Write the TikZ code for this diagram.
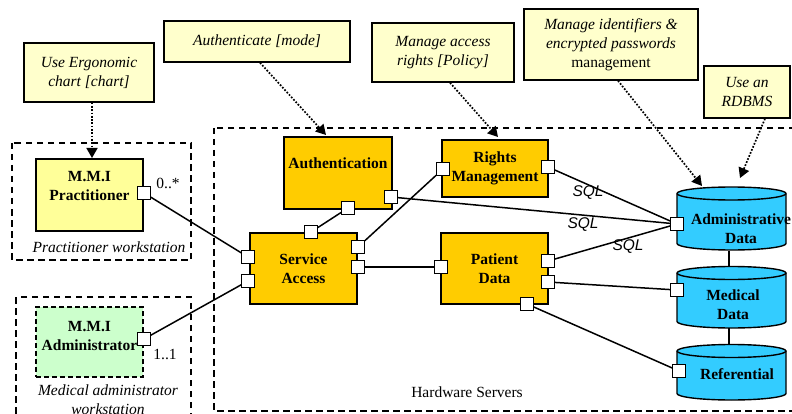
\documentclass[tikz,border=0pt]{standalone}
\usepackage{fontspec}
\setmainfont{Liberation Serif}
\newfontfamily\sqlfont{Liberation Sans}
\usetikzlibrary{arrows.meta,calc}
\definecolor{notefill}{HTML}{FFFFCC}
\definecolor{pracfill}{HTML}{FFFF99}
\definecolor{adminfill}{HTML}{CCFFCC}
\definecolor{compfill}{HTML}{FFCC00}
\definecolor{dbfill}{HTML}{33CCFF}
\tikzset{
  every node/.style={font=\fontsize{15.5}{19}\selectfont, inner sep=0pt},
  note/.style={draw, line width=1.4pt, fill=notefill, align=center,
    font=\fontsize{15.5}{19}\selectfont\itshape},
  comp/.style={draw, line width=1.4pt, fill=compfill},
  port/.style={draw, line width=1.2pt, fill=white, minimum size=12.5pt},
  wire/.style={line width=1.5pt},
  trace/.style={line width=1.7pt, dash pattern=on 1.7pt off 1.6pt,
    -{Triangle[length=10pt,width=11pt]}},
  container/.style={line width=1.4pt, dash pattern=on 6.5pt off 4.5pt},
  boldtxt/.style={font=\fontsize{15.5}{19}\selectfont\bfseries, align=center},
  captxt/.style={font=\fontsize{15.5}{19}\selectfont\itshape, align=center},
  sql/.style={font=\fontsize{15.5}{18}\selectfont\sqlfont\itshape},
}
% database cylinder: centre x, top-ellipse y, bottom-ellipse y
\newcommand{\dbdrum}[3]{%
  \filldraw[fill=dbfill, line width=1.4pt]
    (#1-54.5,#2) -- (#1-54.5,#3)
    arc[start angle=180, end angle=360, x radius=54.5pt, y radius=6.5pt]
    -- (#1+54.5,#2)
    arc[start angle=0, end angle=180, x radius=54.5pt, y radius=6.5pt] -- cycle;
  \draw[line width=1.4pt] (#1-54.5,#2)
    arc[start angle=180, end angle=360, x radius=54.5pt, y radius=6.5pt];}
\begin{document}
\begin{tikzpicture}[x=1pt, y=-1pt]
\useasboundingbox (0,0) rectangle (792,414);
\clip (0,0) rectangle (792,414);

% deployment containers
\draw[container] (12,143) rectangle (191,260);
\draw[container] (16,297) rectangle (191,430);
\draw[container] (214,128) rectangle (810,411);
\node[captxt] (cpw) at (109,247) {Practitioner workstation};
\node[captxt] (cmw) at (108,400) {Medical administrator\\workstation};
\node (chs) at (467,392) {Hardware Servers};

% notes
\node[note, minimum width=130pt, minimum height=59pt] (n1) at (89,72.5)
  {Use Ergonomic\\chart [chart]};
\node[note, minimum width=186pt, minimum height=41pt] (n2) at (257,41.5)
  {Authenticate [mode]};
\node[note, minimum width=142pt, minimum height=59pt] (n3) at (443,52.5)
  {Manage access\\rights [Policy]};
\node[note, minimum width=174pt, minimum height=71pt] (n4) at (611,44.5)
  {Manage identifiers \&\\encrypted passwords\\\upshape management};
\node[note, minimum width=86pt, minimum height=52pt] (n5) at (747,92)
  {Use an\\RDBMS};

% client components
\node[draw, line width=1.4pt, fill=pracfill, minimum width=107pt, minimum height=72pt]
  (prac) at (89.5,195) {};
\node[boldtxt] (pract) at (89.5,186.5) {M.M.I\\Practitioner};
\node[draw, line width=1.4pt, dash pattern=on 5pt off 3pt, fill=adminfill,
  minimum width=107pt, minimum height=70pt] (adm) at (89.5,342) {};
\node[boldtxt] (admt) at (89.5,336) {M.M.I\\Administrator};

% server components
\node[comp, minimum width=108pt, minimum height=72pt] (auth) at (338,173) {};
\node[boldtxt] (autht) at (338,163) {Authentication};
\node[comp, boldtxt, minimum width=107pt, minimum height=71pt] (sa) at (303.5,268.5)
  {Service\\Access};
\node[comp, boldtxt, minimum width=106pt, minimum height=57pt] (rm) at (495,168.5)
  {Rights\\Management};
\node[comp, boldtxt, minimum width=107pt, minimum height=71pt] (pd) at (494.5,268.5)
  {Patient\\Data};

% databases
\dbdrum{731.5}{193.5}{243.5}
\dbdrum{731.5}{273}{321.5}
\dbdrum{731.5}{351}{393.5}
\node[boldtxt] (adt) at (741,228.5) {Administrative\\Data};
\node[boldtxt] (mdt) at (733,304.5) {Medical\\Data};
\node[boldtxt] (rft) at (737,374) {Referential};
\coordinate (adbot) at (729,250.5);
\coordinate (mdtop) at (729,266.5);
\coordinate (mdbot) at (729,328);
\coordinate (rftop) at (729,344.5);
\draw[wire] (adbot) -- (mdtop);
\draw[wire] (mdbot) -- (rftop);

% ports
\node[port] (pp)  at (144,193) {};
\node[port] (pa)  at (144,339) {};
\node[port] (aur) at (391,197) {};
\node[port] (aub) at (348,208) {};
\node[port] (sat) at (311,232) {};
\node[port] (sal1) at (248,257) {};
\node[port] (sal2) at (248,281) {};
\node[port] (sar1) at (358,247) {};
\node[port] (sar2) at (358,267) {};
\node[port] (rml) at (443,169) {};
\node[port] (rmr) at (548,167) {};
\node[port] (pdl) at (441,267) {};
\node[port] (pdr1) at (548,261) {};
\node[port] (pdr2) at (548,282) {};
\node[port] (pdb) at (527,304) {};
\node[port] (adp) at (677,224) {};
\node[port] (mdp) at (677,290) {};
\node[port] (rfp) at (679,371) {};

% multiplicities
\node (m1) at (168,183) {0..*};
\node (m2) at (165,354) {1..1};

% connectors
\draw[wire] (pp) -- (sal1);
\draw[wire] (pa) -- (sal2);
\draw[wire] (sat) -- (aub);
\draw[wire] (sar1) -- (rml);
\draw[wire] (sar2) -- (pdl);
\draw[wire] (aur) -- (adp);
\draw[wire] (rmr) -- (adp);
\draw[wire] (pdr1) -- (adp);
\draw[wire] (pdr2) -- (mdp);
\draw[wire] (pdb) -- (rfp);
\node[sql] (sql1) at (588,193) {SQL};
\node[sql] (sql2) at (583,225) {SQL};
\node[sql] (sql3) at (628,247) {SQL};

% note traces
\coordinate (t1) at (92,158);
\coordinate (t2) at (326,135);
\coordinate (t3) at (498,137);
\coordinate (t4) at (702,186);
\coordinate (t5) at (740,178);
\draw[trace] (n1.south -| t1) -- (t1);
\draw[trace] ([xshift=3pt]n2.south) -- (t2);
\draw[trace] ([xshift=7pt]n3.south) -- (t3);
\draw[trace] ([xshift=7pt]n4.south) -- (t4);
\draw[trace] ([xshift=18pt]n5.south) -- (t5);
\end{tikzpicture}
\end{document}
